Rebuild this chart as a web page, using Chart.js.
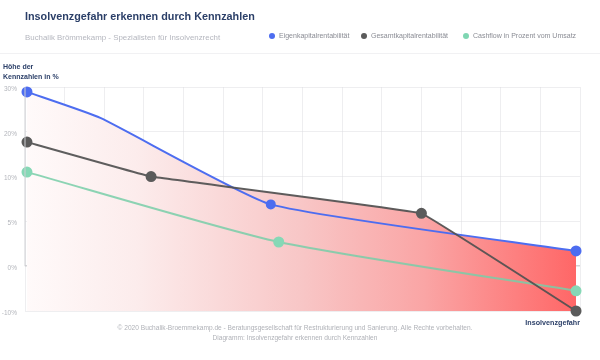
<!DOCTYPE html>
<html>
<head>
<meta charset="utf-8">
<script src="https://cdn.jsdelivr.net/npm/chart.js@4"></script>
<style>
    body { margin: 0; background: #fff; font-family: "Liberation Sans", Arial, sans-serif; }
    #wrap { position: relative; width: 600px; height: 360px; overflow: hidden; }
    #wrap canvas { position: absolute; left: 0; top: 0; }
    .txt { position: absolute; white-space: nowrap; }
    #title { left: 25px; top: 10px; font-size: 10.8px; font-weight: bold; color: #2b3f68; }
    #subtitle { left: 25px; top: 33px; font-size: 7.9px; color: #b5b7bf; }
    #sep { position: absolute; left: 0; top: 53px; width: 600px; height: 1px; background: #f1f1f3; }
    .leg { position: absolute; top: 32px; font-size: 7px; color: #8a8c94; white-space: nowrap; }
    .leg i { display: inline-block; width: 6px; height: 6px; border-radius: 50%; margin-right: 4px; vertical-align: -1px; }
    #ytitle { left: 3px; top: 62px; font-size: 7px; font-weight: bold; color: #2b3f68; line-height: 9.5px; }
    #xtitle { right: 20px; top: 318px; font-size: 7.2px; font-weight: bold; color: #2b3f68; }
    #footer { left: 0; width: 590px; top: 323px; text-align: center; font-size: 6.6px; color: #b0b2b8; line-height: 10px; }
</style>
</head>
<body>
<div id="wrap">
    <canvas id="riskChart" width="600" height="360"></canvas>
    <div class="txt" id="title">Insolvenzgefahr erkennen durch Kennzahlen</div>
    <div class="txt" id="subtitle">Buchalik Brömmekamp - Spezialisten für Insolvenzrecht</div>
    <div id="sep"></div>
    <div class="leg" style="left:269px"><i style="background:#4d6df0"></i>Eigenkapitalrentabilität</div>
    <div class="leg" style="left:361px"><i style="background:#5b5b5b"></i>Gesamtkapitalrentabilität</div>
    <div class="leg" style="left:463px"><i style="background:#7fd6b2"></i>Cashflow in Prozent vom Umsatz</div>
    <div class="txt" id="ytitle">Höhe der<br>Kennzahlen in %</div>
    <div class="txt" id="xtitle">Insolvenzgefahr</div>
    <div class="txt" id="footer">© 2020 Buchalik-Broemmekamp.de - Beratungsgesellschaft für Restrukturierung und Sanierung. Alle Rechte vorbehalten.<br>Diagramm: Insolvenzgefahr erkennen durch Kennzahlen</div>
</div>
<script>
// Tick labels of the y axis (the gridlines are evenly spaced, the values are not)
const yTicks = [-10, 0, 5, 10, 20, 30];

// Position on the "Insolvenzgefahr" axis (0 = low, 14 = high) and values in %
const ekX = [0.05, 1.9, 6.2, 13.9];
const ekValues = [28.9, 23.1, 6.9, 1.7];

const gkX = [0.05, 3.18, 10.0, 13.9];
const gkValues = [17.7, 10.0, 5.9, -10.0];

const cfX = [0.05, 6.4, 13.9];
const cfValues = [11.0, 2.7, -5.5];

// Wert in % -> Position auf der (ungleichmäßigen) y-Achse
function toSlot(v) {
    for (let i = 0; i < yTicks.length - 1; i++) {
        if (v <= yTicks[i + 1] || i === yTicks.length - 2) {
            return i + (v - yTicks[i]) / (yTicks[i + 1] - yTicks[i]);
        }
    }
}

function points(xs, vals) {
    return xs.map((x, i) => ({ x: x, y: toSlot(vals[i]) }));
}

// horizontaler Verlauf weiß -> rot
function riskGradient(context) {
    const area = context.chart.chartArea;
    if (!area) return 'rgba(255,120,120,0.3)';
    const g = context.chart.ctx.createLinearGradient(area.left, 0, area.right, 0);
    g.addColorStop(0, '#fffafa');
    g.addColorStop(0.2, '#fcecec');
    g.addColorStop(0.5, '#f8c6c6');
    g.addColorStop(0.72, '#faa5a5');
    g.addColorStop(1, '#ff6565');
    return g;
}

// y-Achsenlinie nur bis zur 0%-Linie
const axisLine = {
    id: 'axisLine',
    afterDraw(chart) {
        const { ctx, scales } = chart;
        const x = scales.x.getPixelForValue(0);
        ctx.save();
        ctx.strokeStyle = '#cfd0d4';
        ctx.lineWidth = 1;
        ctx.beginPath();
        ctx.moveTo(x, scales.y.getPixelForValue(yTicks.length - 1));
        ctx.lineTo(x, scales.y.getPixelForValue(toSlot(0)));
        ctx.stroke();
        ctx.restore();
    }
};

new Chart(document.getElementById('riskChart'), {
    type: 'line',
    data: {
        datasets: [
            {
                label: 'Eigenkapitalrentabilität',
                data: points(ekX, ekValues),
                borderColor: '#4d6df0',
                backgroundColor: riskGradient,
                pointBackgroundColor: '#4d6df0',
                pointBorderColor: '#4d6df0',
                pointRadius: [4.5, 0, 4, 4.5],
                borderWidth: 2,
                tension: 0.15,
                fill: 'start',
                clip: false,
                order: 1
            },
            {
                label: 'Gesamtkapitalrentabilität',
                data: points(gkX, gkValues),
                borderColor: 'rgba(80,80,80,0.92)',
                backgroundColor: riskGradient,
                pointBackgroundColor: '#5b5b5b',
                pointBorderColor: '#5b5b5b',
                pointRadius: 4.5,
                borderWidth: 2,
                tension: 0.04,
                fill: 'start',
                clip: false,
                order: 0
            },
            {
                label: 'Cashflow in Prozent vom Umsatz',
                data: points(cfX, cfValues),
                borderColor: 'rgba(120,206,168,0.85)',
                pointBackgroundColor: '#86d8b6',
                pointBorderColor: '#86d8b6',
                pointRadius: 4.5,
                borderWidth: 2,
                tension: 0.2,
                fill: false,
                clip: false,
                order: 2
            }
        ]
    },
    options: {
        responsive: false,
        animation: false,
        layout: { padding: { top: 87, right: 20, bottom: 49, left: 0 } },
        plugins: {
            legend: { display: false },
            tooltip: { enabled: false },
            filler: { drawTime: 'beforeDatasetsDraw' }
        },
        scales: {
            x: {
                type: 'linear',
                min: 0,
                max: 14,
                z: 1,
                border: { display: false },
                grid: {
                    color: 'rgba(222,222,226,0.5)',
                    drawTicks: false
                },
                ticks: { display: false, stepSize: 1 },
                afterFit: function(scale) { scale.height = 0; }
            },
            y: {
                min: 0,
                max: yTicks.length - 1,
                z: 1,
                border: { display: false },
                grid: {
                    color: function(ctx) {
                        return ctx.tick && ctx.tick.value === toSlot(0) ? 'rgba(200,200,204,0.8)' : 'rgba(222,222,226,0.5)';
                    },
                    lineWidth: function(ctx) {
                        return ctx.tick && ctx.tick.value === toSlot(0) ? 1.5 : 1;
                    },
                    drawTicks: false
                },
                ticks: {
                    stepSize: 1,
                    padding: 8,
                    labelOffset: 2,
                    color: '#b3b5bb',
                    font: { family: '"Liberation Sans", Arial, sans-serif', size: 6.5 },
                    callback: function(value) {
                        return yTicks[value] + '%';
                    }
                },
                afterFit: function(scale) { scale.width = 25; }
            }
        }
    },
    plugins: [axisLine]
});
</script>
</body>
</html>
